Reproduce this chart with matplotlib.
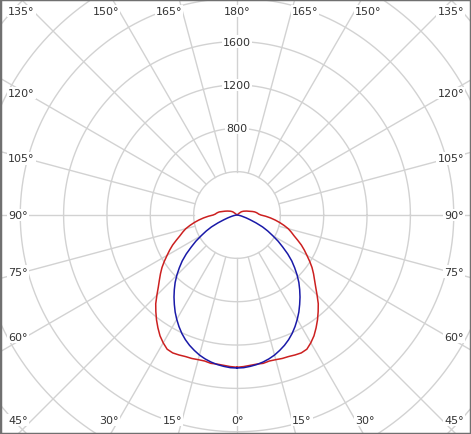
import matplotlib.pyplot as plt
import numpy as np

# luminous intensity (cd), gamma 0..180 in 2.5 deg steps
gamma = np.arange(0, 182.5, 2.5)
red_cd = [1405, 1400, 1393, 1388, 1390, 1380, 1382, 1388, 1390, 1398,
          1404, 1396, 1362, 1322, 1272, 1220, 1165, 1110, 1045, 985,
          935, 890, 845, 795, 745, 700, 655, 605, 560, 525,
          490, 445, 400, 355, 310, 265, 220,
          200, 190, 178, 165, 148, 130, 117, 105, 95, 85,
          77, 70, 62, 55, 45, 25, 10] + [0] * 19
blue_cd = [1412, 1410, 1402, 1392, 1378, 1360, 1338, 1310, 1280, 1245,
           1205, 1160, 1112, 1062, 1008, 955, 900, 845, 785, 722,
           660, 590, 515, 450, 380, 320, 260, 190, 130, 90,
           60, 40, 25, 15, 8, 3, 0] + [0] * 36

ring_values = [400, 800, 1200, 1600, 2000, 2400, 2800, 3200]
ring_labels = [800, 1200, 1600]
spoke_angles = np.arange(0, 360, 15)
label_angles = np.arange(0, 195, 15)

W, H = 471, 435
cx, cy = 237, 216          # centre in pixels from top-left
k = 400 / 43.35            # cd per pixel

fig = plt.figure(figsize=(W / 100, H / 100), dpi=100)
ax = fig.add_axes([0, 0, 1, 1])
ax.set_xlim(-cx * k, (W - cx) * k)
ax.set_ylim(-(H - cy) * k, cy * k)
ax.set_xticks([])
ax.set_yticks([])
for s in ax.spines.values():
    s.set_color('#707070')
    s.set_linewidth(2.5)

grid_col = '#d2d2d2'
t = np.linspace(0, 2 * np.pi, 400)
for r in ring_values:
    ax.plot(r * np.cos(t), r * np.sin(t), color=grid_col, lw=1, zorder=1)
for a in spoke_angles:
    th = np.radians(a)
    ax.plot([400 * np.sin(th), 5000 * np.sin(th)],
            [-400 * np.cos(th), -5000 * np.cos(th)],
            color=grid_col, lw=1, zorder=1)

txt = dict(fontsize=8, color='#333333', zorder=5,
           bbox=dict(facecolor='white', edgecolor='none', pad=0.8))

for r in ring_labels:
    ax.text(0, r, str(r), ha='center', va='center', **txt)

# angle labels: side ones hug the frame edge, top/bottom ones sit by the spoke
bx, by_top, by_bot = 211 * k, 204 * k, 205 * k
left_edge, right_edge = -229 * k, 227 * k
for a in label_angles:
    th = np.radians(a)
    dx, dy = np.sin(th), -np.cos(th)
    by = by_top if dy > 0 else by_bot
    sx = bx / abs(dx) if abs(dx) > 1e-9 else np.inf
    sy = by / abs(dy) if abs(dy) > 1e-9 else np.inf
    s = min(sx, sy)
    y = s * dy
    side = 45 <= a <= 135
    for sign in ([1, -1] if 0 < a < 180 else [1]):
        if side:
            x = right_edge if sign > 0 else left_edge
            ha = 'right' if sign > 0 else 'left'
        else:
            x = sign * s * dx
            if abs(x) < 1:
                ha = 'center'
            elif x > 0:
                ha = 'left'
            else:
                ha = 'right'
        ax.text(x, y, f'{a}°', ha=ha, va='center', **txt)


def curve(vals):
    th = np.radians(np.concatenate([gamma, gamma[::-1][1:]]))
    r = np.concatenate([vals, vals[::-1][1:]])
    sgn = np.concatenate([np.ones(len(gamma)), -np.ones(len(gamma) - 1)])
    return sgn * r * np.sin(th), -r * np.cos(th)


rx, ry = curve(np.array(red_cd))
bx_, by_ = curve(np.array(blue_cd))
ax.plot(rx, ry, color='#cc2020', lw=1.1, zorder=3)
ax.plot(bx_, by_, color='#1a1aa8', lw=1.1, zorder=4)

fig.savefig('out.png', dpi=100)
